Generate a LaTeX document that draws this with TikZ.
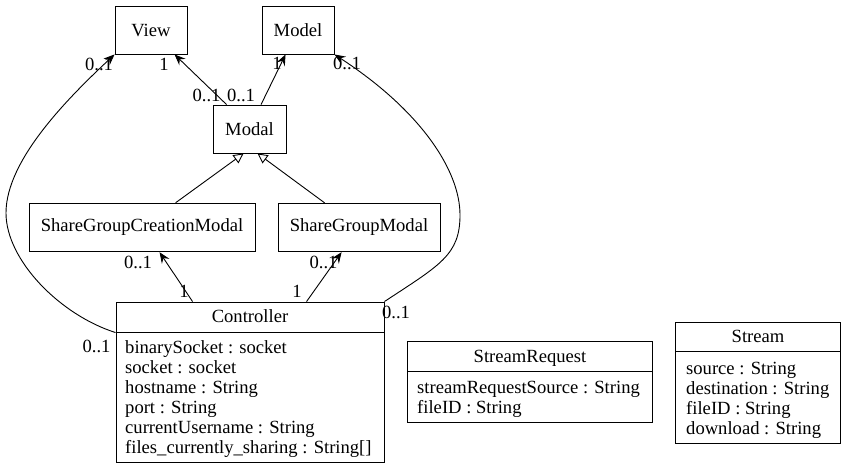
\documentclass[tikz,border=0pt]{standalone}
\usepackage{fontspec}
\setmainfont{Liberation Serif}
\usetikzlibrary{arrows.meta}
\begin{document}
\begin{tikzpicture}[x=1pt,y=-1pt,
  every node/.style={font=\fontsize{18.6}{22}\selectfont},
  cls/.style={draw,line width=0.9pt,rectangle,inner sep=0pt},
  lbl/.style={inner sep=0pt,anchor=center},
  attr/.style={inner sep=0pt,anchor=base west},
  ttl/.style={inner sep=0pt,anchor=base},
  assoc/.style={line width=0.9pt,-{Stealth[length=11pt,width=9pt,inset=4pt]}},
  gen/.style={line width=0.9pt,-{Triangle[open,length=10pt,width=10pt]}}]
\useasboundingbox (0,0) rectangle (845,469);
% simple classes
\node[cls,minimum width=72pt,minimum height=48pt] (view) at (151,30) {View};
\node[cls,minimum width=72pt,minimum height=48pt] (model) at (298,30) {Model};
\node[cls,minimum width=73pt,minimum height=48pt] (modal) at (249.5,129) {Modal};
\node[cls,minimum width=226pt,minimum height=48.5pt] (sgcm) at (142,227.5) {ShareGroupCreationModal};
\node[cls,minimum width=162pt,minimum height=48.5pt] (sgm) at (359,227.5) {ShareGroupModal};
% Controller
\node[cls,minimum width=268pt,minimum height=160pt] (ctrl) at (250,382) {};
\draw[line width=0.9pt] ([yshift=-31pt]ctrl.north west) -- ([yshift=-31pt]ctrl.north east);
\node[ttl] (ctrlt) at (250,322) {Controller};
\node[attr] (c1) at (125,353) {binarySocket : socket};
\node[attr] (c2) at (125,373) {socket : socket};
\node[attr] (c3) at (125,393) {hostname : String};
\node[attr] (c4) at (125,413) {port : String};
\node[attr] (c5) at (125,433) {currentUsername : String};
\node[attr] (c6) at (125,453) {files\_currently\_sharing : String[]};
% StreamRequest
\node[cls,minimum width=245pt,minimum height=81pt] (sreq) at (530,382.2) {};
\draw[line width=0.9pt] ([yshift=-30pt]sreq.north west) -- ([yshift=-30pt]sreq.north east);
\node[ttl] (sreqt) at (530,362) {StreamRequest};
\node[attr] (s1) at (417,393) {streamRequestSource : String};
\node[attr] (s2) at (417,413) {fileID : String};
% Stream
\node[cls,minimum width=165pt,minimum height=121pt] (stream) at (758.2,382.8) {};
\draw[line width=0.9pt] ([yshift=-30pt]stream.north west) -- ([yshift=-30pt]stream.north east);
\node[ttl] (streamt) at (758,342) {Stream};
\node[attr] (t1) at (686,374) {source : String};
\node[attr] (t2) at (686,394) {destination : String};
\node[attr] (t3) at (686,414) {fileID : String};
\node[attr] (t4) at (686,434) {download : String};
% connectors
\draw[assoc] ([xshift=14pt]modal.north west) -- ([xshift=60pt]view.south west);
\draw[assoc] ([xshift=48.5pt]modal.north west) -- ([xshift=24pt]model.south west);
\draw[gen] ([xshift=147pt]sgcm.north west) -- ([xshift=31pt]modal.south west);
\draw[gen] ([xshift=47pt]sgm.north west) -- ([xshift=45pt]modal.south west);
\draw[assoc] ([xshift=77pt]ctrl.north west) -- ([xshift=131pt]sgcm.south west);
\draw[assoc] ([xshift=191pt]ctrl.north west) -- ([xshift=64pt]sgm.south west);
\coordinate (lm) at (6,213);
\coordinate (rm) at (460,215);
\draw[assoc] ([yshift=-31pt]ctrl.north west) .. controls (60,315) and (6,260) .. (lm)
  .. controls (6,160) and (68,98) .. (view.south west);
\draw[assoc] (ctrl.north east) .. controls (440,265) and (460,255) .. (rm)
  .. controls (460,170) and (420,110) .. (model.south east);
% multiplicities
\node[lbl] (m1) at (99,64) {0..1};
\node[lbl] (m2) at (164,64) {1};
\node[lbl] (m3) at (206.5,95) {0..1};
\node[lbl] (m4) at (241,95) {0..1};
\node[lbl] (m5) at (277,63) {1};
\node[lbl] (m6) at (347,63) {0..1};
\node[lbl] (m7) at (138,262) {0..1};
\node[lbl] (m8) at (184,291) {1};
\node[lbl] (m9) at (297,291) {1};
\node[lbl] (m10) at (323.5,262) {0..1};
\node[lbl] (m11) at (396,312) {0..1};
\node[lbl] (m12) at (96.5,346) {0..1};
\end{tikzpicture}
\end{document}
